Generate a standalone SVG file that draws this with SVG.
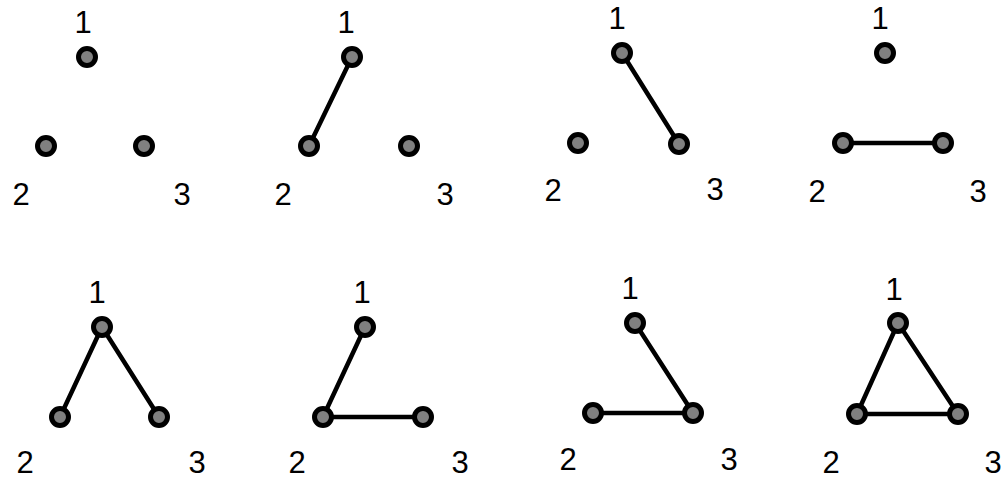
<svg xmlns="http://www.w3.org/2000/svg" width="1007" height="482" viewBox="0 0 1007 482">
<style>
.bg{fill:#fff}
.e{stroke:#000;stroke-width:4.5;stroke-linecap:round;fill:none}
.n{fill:#808080;stroke:#000;stroke-width:5}
.t{font-family:"Liberation Sans",Arial,sans-serif;font-size:31px;fill:#000;text-anchor:middle}
</style>
<rect class="bg" x="0" y="0" width="1007" height="482"/>
<g id="connectors">
<line class="e" x1="352" y1="57" x2="309" y2="146"/>
<line class="e" x1="622" y1="53" x2="679" y2="144"/>
<line class="e" x1="843" y1="143" x2="943" y2="143"/>
<line class="e" x1="102" y1="327" x2="60" y2="417"/>
<line class="e" x1="102" y1="327" x2="159" y2="417"/>
<line class="e" x1="365" y1="327" x2="323" y2="417"/>
<line class="e" x1="323" y1="417" x2="423" y2="417"/>
<line class="e" x1="635" y1="323" x2="693" y2="413"/>
<line class="e" x1="593" y1="413" x2="693" y2="413"/>
<line class="e" x1="898" y1="323" x2="857" y2="414"/>
<line class="e" x1="898" y1="323" x2="958" y2="414"/>
<line class="e" x1="857" y1="414" x2="958" y2="414"/>
</g>
<g id="graph1">
<circle class="n" cx="87" cy="57" r="8.5"/><circle class="n" cx="46" cy="146" r="8.5"/><circle class="n" cx="144" cy="146" r="8.5"/>
<text class="t" x="83" y="33">1</text><text class="t" x="21" y="205">2</text><text class="t" x="182" y="205">3</text>
</g>
<g id="graph2">
<circle class="n" cx="352" cy="57" r="8.5"/><circle class="n" cx="309" cy="146" r="8.5"/><circle class="n" cx="409" cy="146" r="8.5"/>
<text class="t" x="346" y="33">1</text><text class="t" x="283" y="205">2</text><text class="t" x="445" y="205">3</text>
</g>
<g id="graph3">
<circle class="n" cx="622" cy="53" r="8.5"/><circle class="n" cx="578" cy="143" r="8.5"/><circle class="n" cx="679" cy="144" r="8.5"/>
<text class="t" x="617" y="29">1</text><text class="t" x="553" y="201">2</text><text class="t" x="715" y="200">3</text>
</g>
<g id="graph4">
<circle class="n" cx="885" cy="53" r="8.5"/><circle class="n" cx="843" cy="143" r="8.5"/><circle class="n" cx="943" cy="143" r="8.5"/>
<text class="t" x="880" y="29">1</text><text class="t" x="817" y="202">2</text><text class="t" x="978" y="202">3</text>
</g>
<g id="graph5">
<circle class="n" cx="102" cy="327" r="8.5"/><circle class="n" cx="60" cy="417" r="8.5"/><circle class="n" cx="159" cy="417" r="8.5"/>
<text class="t" x="97" y="303">1</text><text class="t" x="25" y="473">2</text><text class="t" x="197" y="473">3</text>
</g>
<g id="graph6">
<circle class="n" cx="365" cy="327" r="8.5"/><circle class="n" cx="323" cy="417" r="8.5"/><circle class="n" cx="423" cy="417" r="8.5"/>
<text class="t" x="362" y="303">1</text><text class="t" x="297" y="473">2</text><text class="t" x="460" y="473">3</text>
</g>
<g id="graph7">
<circle class="n" cx="635" cy="323" r="8.5"/><circle class="n" cx="593" cy="413" r="8.5"/><circle class="n" cx="693" cy="413" r="8.5"/>
<text class="t" x="630" y="299">1</text><text class="t" x="568" y="470">2</text><text class="t" x="729" y="470">3</text>
</g>
<g id="graph8">
<circle class="n" cx="898" cy="323" r="8.5"/><circle class="n" cx="857" cy="414" r="8.5"/><circle class="n" cx="958" cy="414" r="8.5"/>
<text class="t" x="894" y="300">1</text><text class="t" x="831" y="473">2</text><text class="t" x="993" y="473">3</text>
</g>
</svg>
